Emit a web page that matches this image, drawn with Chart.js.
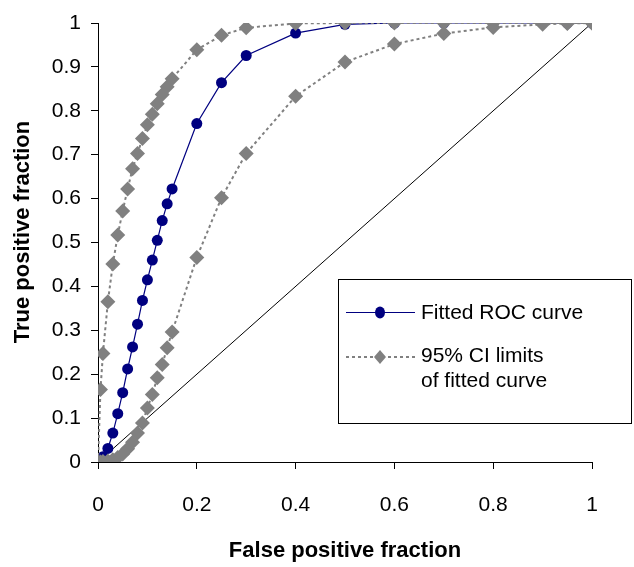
<!DOCTYPE html>
<html>
<head>
<meta charset="utf-8">
<title>Fitted ROC curve</title>
<script src="https://cdn.jsdelivr.net/npm/chart.js@4.4.1/dist/chart.umd.min.js"></script>
<style>
  html, body { margin: 0; padding: 0; background: #fff; }
  canvas { display: block; }
</style>
</head>
<body>
<canvas id="roc" width="634" height="567"></canvas>
<script>
// false positive fraction, shared by every series
const fpr = [0, 0.005, 0.01, 0.02, 0.03, 0.04, 0.05, 0.06, 0.07, 0.08, 0.09, 0.1,
  0.11, 0.12, 0.13, 0.14, 0.15, 0.2, 0.25, 0.3, 0.4, 0.5, 0.6, 0.7, 0.8, 0.9, 0.95, 1];

// true positive fraction of the fitted curve
const rocTpr = [0, 0.005, 0.012, 0.031, 0.066, 0.11, 0.158, 0.212, 0.262, 0.314, 0.368, 0.415,
  0.46, 0.505, 0.55, 0.588, 0.622, 0.771, 0.864, 0.926, 0.977, 0.997, 1, 1, 1, 1, 1, 1];

// 95% CI limits
const ciUpper = [0, 0.165, 0.247, 0.365, 0.451, 0.517, 0.572, 0.622, 0.668, 0.703, 0.737, 0.768,
  0.792, 0.816, 0.837, 0.855, 0.873, 0.939, 0.972, 0.989, 0.999, 1, 1, 1, 1, 1, 1, 1];
const ciLower = [0, 0, 0.001, 0.002, 0.005, 0.01, 0.018, 0.03, 0.045, 0.066, 0.089, 0.123,
  0.154, 0.192, 0.222, 0.26, 0.296, 0.466, 0.602, 0.703, 0.833, 0.911, 0.952, 0.976, 0.99, 0.997, 0.999, 1];

// chance line
const chanceX = [0, 1];
const chanceY = [0, 1];

const xTicks = [0, 0.2, 0.4, 0.6, 0.8, 1];
const yTicks = [0, 0.1, 0.2, 0.3, 0.4, 0.5, 0.6, 0.7, 0.8, 0.9, 1];

const xTitle = "False positive fraction";
const yTitle = "True positive fraction";
const legendRoc = "Fitted ROC curve";
const legendCi = ["95% CI limits", "of fitted curve"];

const FONT = "'Liberation Sans', Arial, sans-serif";
const NAVY = "#000080";
const GREY = "#808080";

function pairs(xs, ys) {
  return xs.map((x, i) => ({ x: x, y: ys[i] }));
}

// titles and the boxed legend, drawn the way the original sheet lays them out
const decorations = {
  id: "decorations",
  afterDraw(chart) {
    const ctx = chart.ctx;
    ctx.save();
    ctx.fillStyle = "#000";
    ctx.font = "bold 22px " + FONT;
    ctx.textAlign = "center";
    ctx.textBaseline = "middle";
    ctx.fillText(xTitle, (chart.chartArea.left + chart.chartArea.right) / 2, 551);
    ctx.translate(23, 232);
    ctx.rotate(-Math.PI / 2);
    ctx.fillText(yTitle, 0, 0);
    ctx.restore();

    // legend box
    ctx.save();
    ctx.fillStyle = "#fff";
    ctx.fillRect(338, 279, 293, 144);
    ctx.strokeStyle = "#000";
    ctx.lineWidth = 1;
    ctx.strokeRect(338.5, 279.5, 293, 144);

    // fitted curve entry
    ctx.strokeStyle = NAVY;
    ctx.beginPath();
    ctx.moveTo(346, 312.5);
    ctx.lineTo(415, 312.5);
    ctx.stroke();
    ctx.fillStyle = NAVY;
    ctx.beginPath();
    ctx.ellipse(380, 312.5, 5, 6, 0, 0, Math.PI * 2);
    ctx.fill();

    // CI entry
    ctx.strokeStyle = GREY;
    ctx.lineWidth = 2;
    ctx.setLineDash([3, 3]);
    ctx.beginPath();
    ctx.moveTo(346, 357);
    ctx.lineTo(415, 357);
    ctx.stroke();
    ctx.setLineDash([]);
    ctx.fillStyle = GREY;
    ctx.beginPath();
    ctx.moveTo(380, 350);
    ctx.lineTo(386, 357);
    ctx.lineTo(380, 364);
    ctx.lineTo(374, 357);
    ctx.closePath();
    ctx.fill();

    ctx.fillStyle = "#000";
    ctx.font = "21px " + FONT;
    ctx.textAlign = "left";
    ctx.textBaseline = "middle";
    ctx.fillText(legendRoc, 421, 313);
    ctx.fillText(legendCi[0], 421, 356);
    ctx.fillText(legendCi[1], 421, 381);
    ctx.restore();
  }
};

const tickFont = { family: FONT, size: 21 };

new Chart(document.getElementById("roc"), {
  type: "scatter",
  data: {
    datasets: [
      {
        label: "chance",
        data: pairs(chanceX, chanceY),
        showLine: true,
        borderColor: "#000",
        borderWidth: 1,
        pointRadius: 0,
        order: 4
      },
      {
        label: legendRoc,
        data: pairs(fpr, rocTpr),
        showLine: true,
        borderColor: NAVY,
        borderWidth: 1.2,
        backgroundColor: NAVY,
        pointStyle: "circle",
        pointRadius: 5.5,
        pointBorderWidth: 0,
        order: 3
      },
      {
        label: "lower CI",
        data: pairs(fpr, ciLower),
        showLine: true,
        borderColor: GREY,
        borderWidth: 2,
        borderDash: [3, 3],
        backgroundColor: GREY,
        pointBorderColor: GREY,
        pointStyle: "rectRot",
        pointRadius: 7.5,
        pointBorderWidth: 0,
        order: 2
      },
      {
        label: "upper CI",
        data: pairs(fpr, ciUpper),
        showLine: true,
        borderColor: GREY,
        borderWidth: 2,
        borderDash: [3, 3],
        backgroundColor: GREY,
        pointBorderColor: GREY,
        pointStyle: "rectRot",
        pointRadius: 7.5,
        pointBorderWidth: 0,
        order: 1
      }
    ]
  },
  options: {
    responsive: false,
    animation: false,
    events: [],
    layout: { padding: { top: 23, right: 42, bottom: 0, left: 0 } },
    plugins: {
      legend: { display: false },
      tooltip: { enabled: false }
    },
    scales: {
      x: {
        type: "linear",
        min: 0,
        max: 1,
        afterBuildTicks: (axis) => { axis.ticks = xTicks.map((v) => ({ value: v })); },
        afterFit: (axis) => { axis.height = 105; },
        ticks: { font: tickFont, color: "#000", padding: 24, maxRotation: 0,
          callback: (v) => String(v) },
        grid: { drawOnChartArea: false, drawTicks: true, tickLength: 7, color: "#000" },
        border: { display: true, color: "#000", width: 1 }
      },
      y: {
        type: "linear",
        min: 0,
        max: 1,
        afterBuildTicks: (axis) => { axis.ticks = yTicks.map((v) => ({ value: v })); },
        afterFit: (axis) => { axis.width = 98; },
        ticks: { font: tickFont, color: "#000", padding: 10,
          callback: (v) => String(v) },
        grid: { drawOnChartArea: false, drawTicks: true, tickLength: 7, color: "#000" },
        border: { display: true, color: "#000", width: 1 }
      }
    }
  },
  plugins: [decorations]
});
</script>
</body>
</html>
